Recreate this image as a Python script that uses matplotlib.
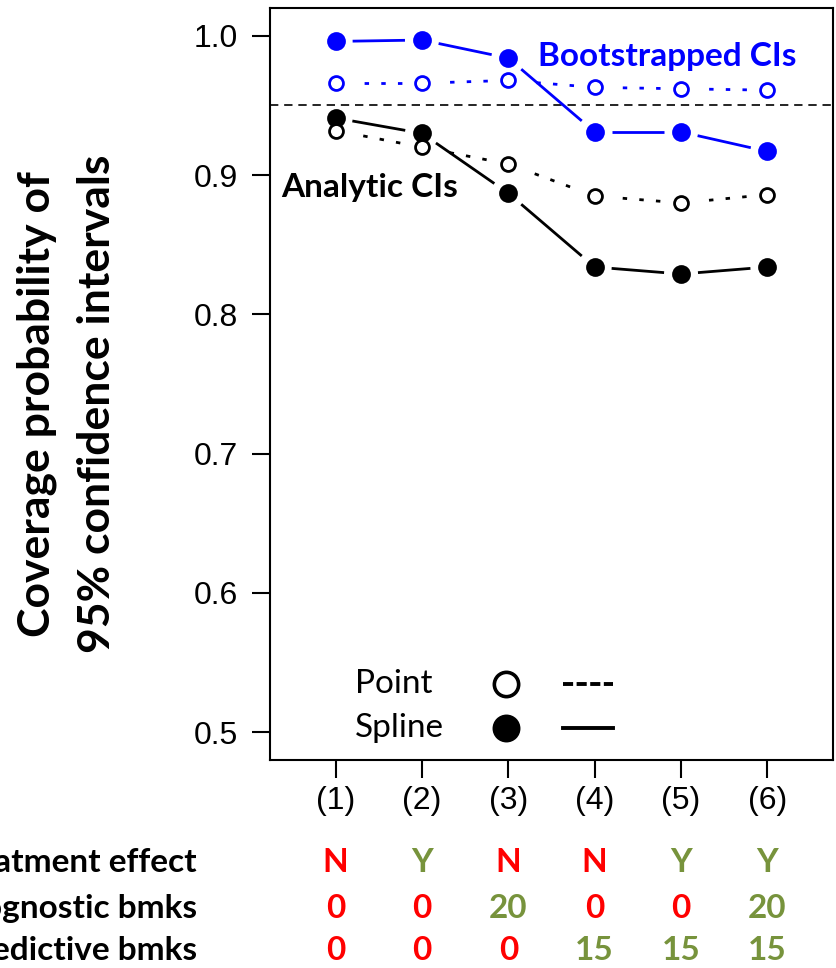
import numpy as np
import matplotlib.pyplot as plt
from matplotlib.transforms import blended_transform_factory

# donnees
scenarios = ['(1)', '(2)', '(3)', '(4)', '(5)', '(6)']
boot_spline = [0.996, 0.997, 0.984, 0.931, 0.931, 0.917]
boot_point = [0.966, 0.966, 0.968, 0.963, 0.962, 0.961]
anal_spline = [0.941, 0.930, 0.887, 0.834, 0.829, 0.834]
anal_point = [0.932, 0.920, 0.908, 0.885, 0.880, 0.886]
nominal = 0.95

row_labels = ['Treatment effect', 'Prognostic bmks', 'Predictive bmks']
treat = ['N', 'Y', 'N', 'N', 'Y', 'Y']
prog = ['0', '0', '20', '0', '0', '20']
pred = ['0', '0', '0', '15', '15', '15']

RED = '#ff0000'
GREEN = '#77933c'
BLUE = '#0000ff'
CAL = ['Lato', 'DejaVu Sans']

fig = plt.figure(figsize=(8.36, 9.68), dpi=100)
ax = fig.add_axes([270 / 836, 208 / 968, 563 / 836, 752 / 968])
x = np.arange(1, 7)
ax.set_xlim(0.24, 6.76)
ax.set_ylim(0.48, 1.02)


def gapped(ax, xs, ys, color, ls, gap=17):
    # comme type="b" dans R : segments interrompus autour des points
    pts = ax.transData.transform(np.column_stack([xs, ys]))
    inv = ax.transData.inverted()
    for p0, p1 in zip(pts[:-1], pts[1:]):
        d = p1 - p0
        n = np.hypot(*d)
        if n <= 2 * gap:
            continue
        a = inv.transform(p0 + d * gap / n)
        b = inv.transform(p1 - d * gap / n)
        ax.plot([a[0], b[0]], [a[1], b[1]], color=color, ls=ls, lw=2,
                solid_capstyle='butt', dash_capstyle='butt')


ax.axhline(nominal, color='black', lw=1.2, ls=(0, (5, 3.5)))
for ys, col, filled in [(boot_spline, BLUE, True), (boot_point, BLUE, False),
                        (anal_spline, 'black', True), (anal_point, 'black', False)]:
    ls = '-' if filled else (2, (1.6, 4.4))
    gapped(ax, x, ys, col, ls)
    ax.plot(x, ys, 'o', ms=11.5 if filled else 10, color=col,
            mfc=col if filled else 'white', mew=2, zorder=3)

ax.text(3.34, 0.985, 'Bootstrapped CIs', color=BLUE, fontsize=24,
        fontweight='bold', family=CAL, va='center')
ax.text(0.37, 0.891, 'Analytic CIs', color='black', fontsize=24,
        fontweight='bold', family=CAL, va='center')

# legende faite a la main
for yy, lab, mfc, ls in [(0.101, 'Point', 'white', (0, (2.6, 0.9))),
                         (0.043, 'Spline', 'black', '-')]:
    ax.text(0.151, yy, lab, transform=ax.transAxes, fontsize=24, family=CAL,
            va='center')
    ax.plot([0.419], [yy], 'o', transform=ax.transAxes, ms=17.5, mfc=mfc,
            mec='black', mew=2.6)
    ax.plot([0.52, 0.609], [yy, yy], transform=ax.transAxes, color='black',
            lw=2.8, ls=ls)

ax.set_yticks([0.5, 0.6, 0.7, 0.8, 0.9, 1.0])
ax.set_yticklabels(['0.5', '0.6', '0.7', '0.8', '0.9', '1.0'])
ax.set_xticks(x)
ax.set_xticklabels(scenarios)
ax.tick_params(length=13, width=1.5, labelsize=23, pad=6)
for lab in ax.get_xticklabels() + ax.get_yticklabels():
    lab.set_family('Liberation Sans')
ax.tick_params(axis='y', pad=10)
for s in ax.spines.values():
    s.set_linewidth(1.5)

fig.text(37 / 836, 0.583, 'Coverage probability of', rotation=90, ha='center',
         va='center', fontsize=32, fontweight='bold', family=CAL)
fig.text(97 / 836, 0.583, '95% confidence intervals', rotation=90, ha='center',
         va='center', fontsize=32, fontweight='bold', family=CAL)

# tableau sous l'axe (les libelles sont coupes au bord, comme sur l'original)
tr = blended_transform_factory(ax.transData, ax.transAxes)
rows_y = [-0.136, -0.197, -0.253]
for yy, lab, vals in zip(rows_y, row_labels, [treat, prog, pred]):
    fig.text(197 / 836, (208 + yy * 752) / 968, lab, ha='right', va='center',
             fontsize=24, fontweight='bold', family=CAL)
    for xi, v in zip(x, vals):
        col = GREEN if v in ('Y', '20', '15') else RED
        ax.text(xi, yy, v, transform=tr, ha='center', va='center',
                color=col, fontsize=24, fontweight='bold', family=CAL)

fig.savefig('out.png', dpi=100)
